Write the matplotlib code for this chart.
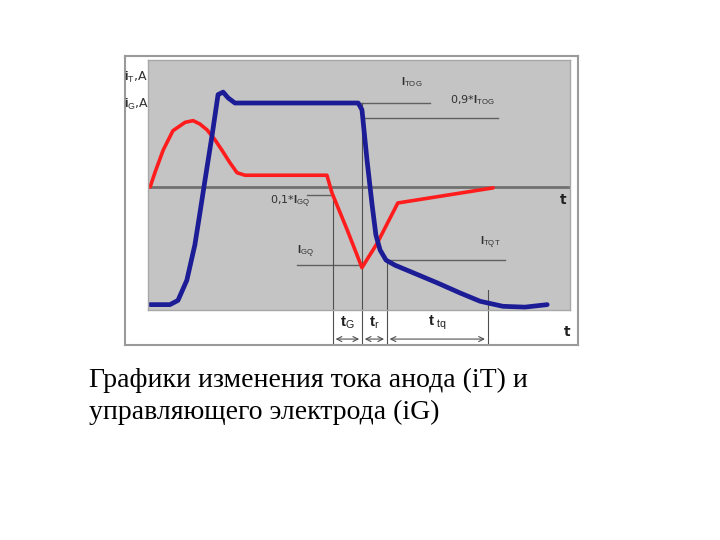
import matplotlib
matplotlib.use('Agg')
import matplotlib.pyplot as plt
from matplotlib.patches import FancyArrowPatch

plt.rcParams['mathtext.fontset'] = 'custom'
plt.rcParams['mathtext.rm'] = 'Liberation Sans'
plt.rcParams['mathtext.bf'] = 'Liberation Sans:bold'

# anode current iT (time in arbitrary units, current relative to I_TOG)
t_anode = [0.5, 5.2, 7.1, 9.2, 11.1, 12.3, 13.5, 15.2, 16.6, 17.8, 19.0, 20.6,
           49.8, 50.7, 51.9, 53.1, 54.0, 55.0, 56.4, 58.5, 62.8, 68.5, 73.9,
           78.7, 84.1, 89.3, 94.6]
i_anode = [-1.40, -1.40, -1.35, -1.11, -0.69, -0.31, 0.08, 0.62, 1.10, 1.13, 1.06, 1.00,
           1.00, 0.92, 0.32, -0.21, -0.57, -0.75, -0.87, -0.93, -1.02, -1.14, -1.26,
           -1.36, -1.42, -1.43, -1.40]

# gate current iG
t_gate = [0.5, 1.7, 3.6, 5.9, 8.8, 10.7, 12.3, 14.0, 15.9, 17.5, 19.4, 21.1, 23.0,
          42.4, 43.6, 47.2, 50.7, 54.3, 59.2, 81.8]
i_gate = [0.0, 0.18, 0.44, 0.67, 0.77, 0.79, 0.75, 0.68, 0.56, 0.44, 0.29, 0.17, 0.14,
          0.14, -0.07, -0.51, -0.96, -0.67, -0.19, -0.01]

# level markers: (label, level, t_start, t_end, label_t, label_y)
levels = [
    (r'$\mathbf{I}_{\mathrm{TOG}}$', 1.0, 50.2, 66.8, 62.6, 1.25),
    (r'0,9*$\mathbf{I}_{\mathrm{TOG}}$', 0.82, 51.4, 82.9, 76.8, 1.04),
    (r'0,1*$\mathbf{I}_{\mathrm{GQ}}$', -0.095, 37.7, 43.8, 33.6, -0.18),
    (r'$\mathbf{I}_{\mathrm{GQ}}$', -0.93, 35.3, 50.7, 37.4, -0.77),
    (r'$\mathbf{I}_{\mathrm{TQT}}$', -0.87, 56.6, 84.6, 81.0, -0.67),
]

# time marks and intervals
t_marks = [43.8, 50.7, 56.6, 80.5]
mark_tops = [-0.095, 1.0, -0.87, -1.23]
interval_labels = [r'$\mathbf{t}_{\mathrm{G}}$', r'$\mathbf{t}_{\mathrm{r}}$', r'$\mathbf{t}_{\ \mathrm{tq}}$']

caption = ['Графики изменения тока анода (iT) и', 'управляющего электрода (iG)']

fig = plt.figure(figsize=(7.2, 5.4), dpi=100)

# white frame around the diagram
frame = fig.add_axes([125/720, 1-345/540, 453/720, 289/540])
frame.set_xticks([])
frame.set_yticks([])
for s in frame.spines.values():
    s.set_color('#9a9a9a')
    s.set_linewidth(1.5)

ax = fig.add_axes([148/720, 1-310/540, 422/720, 250/540])
ax.set_facecolor('#c4c4c4')
ax.set_xlim(0, 100)
ax.set_ylim(-1.464, 1.512)
ax.set_xticks([])
ax.set_yticks([])
for s in ax.spines.values():
    s.set_color('#a8a8a8')
    s.set_linewidth(1)

ax.axhline(0, color='#707070', lw=2)

for lab, lev, t0, t1, lt, ly in levels:
    ax.plot([t0, t1], [lev, lev], color='#606060', lw=1)
    ax.text(lt, ly, lab, fontsize=8, color='#303030', ha='center', va='center')

y_bottom = -1.86
y_arrow = -1.81
for tm, top in zip(t_marks, mark_tops):
    ax.plot([tm, tm], [top, y_bottom], color='#505050', lw=0.8, clip_on=False)

for k in range(3):
    a = FancyArrowPatch((t_marks[k], y_arrow), (t_marks[k+1], y_arrow),
                        arrowstyle='<->', mutation_scale=9, color='#505050', lw=0.8,
                        clip_on=False)
    ax.add_patch(a)
    ax.text((t_marks[k] + t_marks[k+1]) / 2, -1.61, interval_labels[k], fontsize=11,
            color='#202020', ha='center', va='center', clip_on=False)

ax.plot(t_gate, i_gate, color='#ff1c1c', lw=2.6, solid_joinstyle='round', solid_capstyle='round')
ax.plot(t_anode, i_anode, color='#1c1c96', lw=3.4, solid_joinstyle='round', solid_capstyle='round')

ax.text(98.3, -0.16, 't', fontsize=10, fontweight='bold', color='#202020', ha='center', va='center')
ax.text(99.3, -1.73, 't', fontsize=10, fontweight='bold', color='#202020', ha='center', va='center', clip_on=False)
ax.text(-2.8, 1.30, r'$\mathbf{i}_{\mathrm{T}}$,A', fontsize=9, color='#303030', ha='center', va='center')
ax.text(-2.8, 0.98, r'$\mathbf{i}_{\mathrm{G}}$,A', fontsize=9, color='#303030', ha='center', va='center')

fig.text(89/720, 1-387/540, caption[0], fontsize=20, family='Liberation Serif',
         color='black', ha='left', va='baseline')
fig.text(89/720, 1-419/540, caption[1], fontsize=20, family='Liberation Serif',
         color='black', ha='left', va='baseline')

fig.savefig('out.png', dpi=100)
